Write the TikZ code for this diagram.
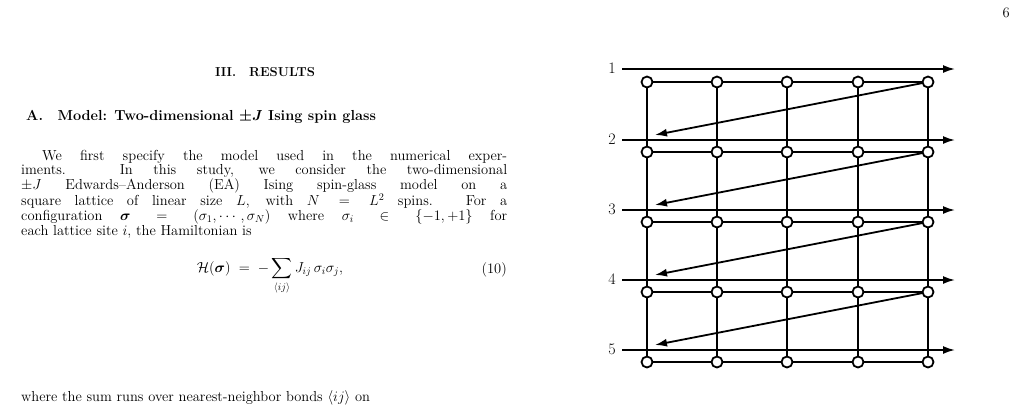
\documentclass[tikz,border=0pt]{standalone}
\usepackage{fix-cm}
\usepackage{amsmath,bm}
\usepackage{fontspec}
\usetikzlibrary{arrows.meta}
\newcommand{\bigtxt}{\fontsize{14.5}{17.4}\selectfont}
\begin{document}
\begin{tikzpicture}[x=1pt,y=-1pt,
  lat/.style={line width=1.8pt},
  arr/.style={line width=1.8pt,-{Latex[length=12pt,width=8pt]}},
  site/.style={circle,draw,fill=white,line width=1.8pt,minimum size=11pt,inner sep=0pt},
  txt/.style={inner sep=0pt},
  lab/.style={inner sep=0pt}]
\useasboundingbox (0,0) rectangle (1029,405);
\node[txt,anchor=north east] (pg) at (1010,8) {\bigtxt 6};
\node[txt] (sec) at (265,72) {\fontsize{13}{15}\selectfont\bfseries III.\quad RESULTS};
\node[txt,anchor=west] (sub) at (26,117) {\bigtxt\bfseries A.\quad Model: Two-dimensional $\bm{\pm J}$ Ising spin glass};
\node[txt,anchor=north west,text width=486pt,align=justify] (par) at (21,150) {\bigtxt\hspace*{21pt}We first specify the model used in the numerical exper-\linebreak iments. In this study, we consider the two-dimensional\linebreak $\pm J$ Edwards--Anderson (EA) Ising spin-glass model on a\linebreak square lattice of linear size $L$, with $N=L^2$ spins. For a\linebreak configuration $\bm{\sigma}=(\sigma_1,\cdots,\sigma_N)$ where $\sigma_i\in\{-1,+1\}$ for\linebreak each lattice site $i$, the Hamiltonian is};
\node[txt] (eq) at (270,276) {\bigtxt$\displaystyle \mathcal{H}(\bm{\sigma}) \;=\; -\sum_{\langle ij\rangle} J_{ij}\,\sigma_i\sigma_j,$};
\node[txt,anchor=east] (eqn) at (507,270) {\bigtxt(10)};
\node[txt,anchor=west] (wh) at (21,398) {\bigtxt where the sum runs over nearest-neighbor bonds $\langle ij\rangle$ on};
% lattice
\foreach \r/\y in {1/82,2/152,3/222,4/292,5/362}{
  \foreach \c/\x in {1/647,2/717,3/787,4/858,5/928}{
    \coordinate (s\r\c) at (\x,\y);
  }
}
\foreach \r in {1,...,5}{ \draw[lat] (s\r1) -- (s\r5); }
\foreach \c in {1,...,5}{ \draw[lat] (s1\c) -- (s5\c); }
\foreach \r/\y in {1/69,2/140,3/210,4/280,5/350}{
  \node[lab,anchor=east] (l\r) at (616,\y-1) {\fontsize{16}{18}\selectfont\r};
  \coordinate (a\r) at (622,\y);
  \coordinate (b\r) at (955,\y);
  \draw[arr] (a\r) -- (b\r);
}
\foreach \r/\n in {1/2,2/3,3/4,4/5}{
  \coordinate (t\n) at (655,\n*70-5);
  \draw[arr] (s\r5) -- (t\n);
}
\foreach \r in {1,...,5}{ \foreach \c in {1,...,5}{ \node[site] at (s\r\c) {}; } }
\end{tikzpicture}
\end{document}
